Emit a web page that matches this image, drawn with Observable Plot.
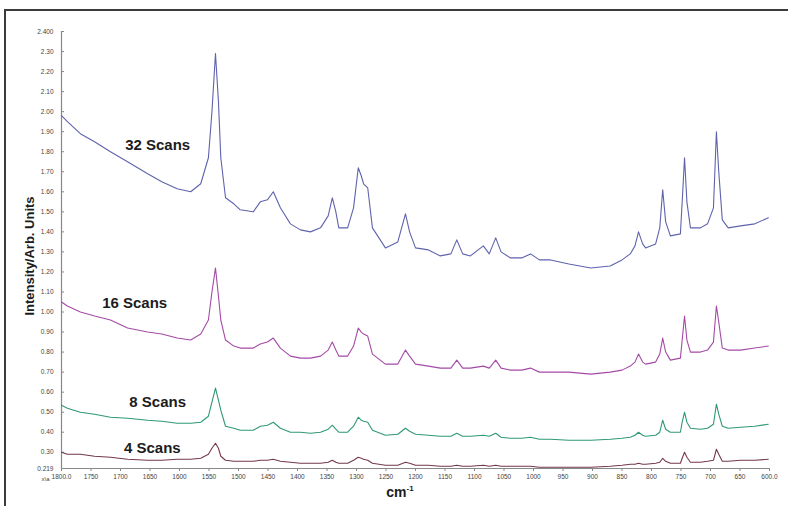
<!DOCTYPE html>
<html><head><meta charset="utf-8">
<script src="https://cdn.jsdelivr.net/npm/d3@7"></script>
<script src="https://cdn.jsdelivr.net/npm/@observablehq/plot@0.6"></script>
<style>
html,body{margin:0;padding:0;background:#fff;overflow:hidden;}
#chart{width:788px;height:506px;overflow:hidden;background:#fff;}
</style></head>
<body><div id="chart"></div>
<script>
const wavenumbers = [1800, 1790, 1768, 1744, 1717, 1688, 1654, 1630, 1604, 1581,
  1564, 1551, 1545, 1539, 1534, 1530, 1522, 1508, 1497, 1475,
  1463, 1451, 1441, 1429, 1412, 1395, 1378, 1361, 1348, 1341,
  1335, 1330, 1315, 1305, 1297, 1292, 1288, 1281, 1273, 1251,
  1230, 1217, 1210, 1200, 1178, 1158, 1140, 1130, 1120, 1107,
  1085, 1075, 1064, 1055, 1039, 1020, 1005, 990, 971, 940,
  903, 870, 850, 836, 828, 822, 815, 810, 793, 786,
  781, 776, 768, 751, 748, 744, 740, 734, 717, 705,
  695, 690, 686, 680, 670, 649, 625, 602];

const scans32 = [1.98, 1.95, 1.89, 1.85, 1.80, 1.75, 1.69, 1.65, 1.615, 1.60,
  1.64, 1.77, 2.00, 2.29, 2.05, 1.77, 1.57, 1.54, 1.51, 1.50,
  1.55, 1.56, 1.60, 1.52, 1.44, 1.41, 1.40, 1.42, 1.48, 1.57,
  1.50, 1.42, 1.42, 1.52, 1.72, 1.68, 1.64, 1.62, 1.42, 1.32,
  1.35, 1.49, 1.40, 1.32, 1.31, 1.28, 1.29, 1.36, 1.29, 1.28,
  1.33, 1.29, 1.37, 1.30, 1.27, 1.27, 1.29, 1.26, 1.26, 1.24,
  1.22, 1.23, 1.26, 1.29, 1.33, 1.40, 1.34, 1.32, 1.34, 1.42,
  1.61, 1.45, 1.38, 1.39, 1.55, 1.77, 1.55, 1.42, 1.42, 1.44,
  1.52, 1.90, 1.70, 1.46, 1.42, 1.43, 1.44, 1.47];

const scans16 = [1.05, 1.03, 1.00, 0.98, 0.96, 0.92, 0.90, 0.89, 0.87, 0.86,
  0.89, 0.96, 1.10, 1.22, 1.08, 0.96, 0.86, 0.83, 0.82, 0.82,
  0.84, 0.85, 0.87, 0.82, 0.78, 0.77, 0.77, 0.78, 0.81, 0.85,
  0.81, 0.78, 0.78, 0.83, 0.92, 0.90, 0.89, 0.88, 0.79, 0.74,
  0.74, 0.81, 0.78, 0.74, 0.73, 0.72, 0.72, 0.76, 0.72, 0.72,
  0.73, 0.72, 0.76, 0.72, 0.71, 0.71, 0.72, 0.70, 0.70, 0.70,
  0.69, 0.70, 0.71, 0.73, 0.75, 0.79, 0.75, 0.74, 0.75, 0.79,
  0.87, 0.80, 0.76, 0.77, 0.86, 0.98, 0.86, 0.80, 0.80, 0.81,
  0.85, 1.03, 0.95, 0.82, 0.81, 0.81, 0.82, 0.83];

const scans8 = [0.535, 0.52, 0.50, 0.49, 0.475, 0.47, 0.46, 0.455, 0.445, 0.445,
  0.45, 0.48, 0.55, 0.62, 0.56, 0.51, 0.43, 0.42, 0.41, 0.41,
  0.43, 0.435, 0.45, 0.42, 0.40, 0.40, 0.395, 0.40, 0.415, 0.435,
  0.415, 0.40, 0.40, 0.43, 0.475, 0.46, 0.455, 0.45, 0.41, 0.385,
  0.39, 0.42, 0.405, 0.39, 0.385, 0.38, 0.38, 0.395, 0.38, 0.38,
  0.385, 0.38, 0.395, 0.375, 0.37, 0.37, 0.375, 0.365, 0.365, 0.36,
  0.36, 0.365, 0.37, 0.375, 0.385, 0.40, 0.385, 0.38, 0.385, 0.40,
  0.46, 0.415, 0.40, 0.40, 0.45, 0.50, 0.45, 0.42, 0.415, 0.42,
  0.44, 0.54, 0.49, 0.43, 0.42, 0.425, 0.43, 0.44];

const scans4 = [0.30, 0.29, 0.29, 0.28, 0.275, 0.265, 0.26, 0.26, 0.265, 0.265,
  0.27, 0.29, 0.32, 0.345, 0.32, 0.28, 0.26, 0.255, 0.255, 0.255,
  0.26, 0.26, 0.265, 0.255, 0.25, 0.245, 0.245, 0.245, 0.25, 0.26,
  0.25, 0.245, 0.245, 0.26, 0.275, 0.27, 0.265, 0.26, 0.245, 0.235,
  0.235, 0.25, 0.245, 0.235, 0.235, 0.23, 0.23, 0.235, 0.23, 0.23,
  0.235, 0.23, 0.235, 0.23, 0.23, 0.23, 0.23, 0.225, 0.225, 0.225,
  0.225, 0.23, 0.235, 0.24, 0.24, 0.245, 0.24, 0.24, 0.245, 0.25,
  0.27, 0.255, 0.245, 0.245, 0.27, 0.30, 0.275, 0.25, 0.25, 0.255,
  0.26, 0.315, 0.29, 0.255, 0.255, 0.26, 0.26, 0.265];

const seriesNames = ["32 Scans", "16 Scans", "8 Scans", "4 Scans"];
const seriesColors = ["#5f63ad", "#a44aa6", "#2f9878", "#74394a"];
const labelWavenumber = [1637, 1676, 1637, 1646];
const labelIntensity = [1.831, 1.043, 0.549, 0.319];
const yTicks = [0.219, 0.3, 0.4, 0.5, 0.6, 0.7, 0.8, 0.9, 1.0, 1.1, 1.2, 1.3, 1.4, 1.5, 1.6, 1.7, 1.8, 1.9, 2.0, 2.1, 2.2, 2.3, 2.4];
const xTicks = [1800, 1750, 1700, 1650, 1600, 1550, 1500, 1450, 1400, 1350, 1300, 1250, 1200, 1150, 1100, 1050, 1000, 950, 900, 850, 800, 750, 700, 650, 600];
const yTitle = "Intensity/Arb. Units";

const allSeries = [scans32, scans16, scans8, scans4];
const rows = [];
allSeries.forEach((vals, i) => vals.forEach((v, j) => rows.push({series: seriesNames[i], w: wavenumbers[j], v})));
const labels = seriesNames.map((s, i) => ({s, w: labelWavenumber[i], v: labelIntensity[i]}));

const yFmt = d => d === 0.219 ? "0.219" : d === 2.4 ? "2.400" : d.toFixed(2);
const xFmt = d => (d === 1800 || d === 600) ? d.toFixed(1) : String(d);

const chart = Plot.plot({
  width: 788, height: 506,
  marginLeft: 61, marginRight: 19, marginTop: 31, marginBottom: 38,
  style: {fontFamily: "Liberation Sans, Arial, sans-serif", fontSize: "6px", background: "white", color: "#444"},
  x: {domain: [1800, 600], label: null},
  y: {domain: [0.219, 2.4], label: null},
  color: {domain: seriesNames, range: seriesColors},
  marks: [
    Plot.axisY(yTicks, {tickFormat: yFmt, tickSize: 0, tickPadding: 8, fontSize: 6.5, fill: "#444"}),
    Plot.axisY(yTicks, {tickSize: -3, text: null, stroke: "#888"}),
    Plot.axisX(xTicks, {tickFormat: xFmt, tickSize: 3, tickPadding: 3, fontSize: 6.5, fill: "#444", stroke: "#888"}),
    Plot.ruleX([1800], {stroke: "#888", strokeWidth: 1.2}),
    Plot.ruleY([0.219], {stroke: "#888", strokeWidth: 1.2}),
    Plot.line(rows, {x: "w", y: "v", z: "series", stroke: "series", strokeWidth: 1.1}),
    Plot.text(labels, {x: "w", y: "v", text: "s", fontSize: 15, fontWeight: "bold", fill: "#1c1c1c", textAnchor: "middle", lineAnchor: "middle"}),
    Plot.text([yTitle], {frameAnchor: "left", dx: -32, dy: 6, rotate: -90, fontSize: 13, fontWeight: "bold", fill: "#1c1c1c", textAnchor: "middle", lineAnchor: "middle"}),
    Plot.text(["x\\a"], {x: 1800, y: 0.219, dx: -16, dy: 11, fontSize: 6, fill: "#444", lineAnchor: "middle"})
  ]
});
document.getElementById("chart").appendChild(chart);

const svg = d3.select(chart);
// page frame (top and left edges of the scanned figure box)
svg.append("path")
  .attr("d", "M5,507 V10 H790")
  .attr("fill", "none").attr("stroke", "#3c3c3c").attr("stroke-width", 2);

const xt = svg.append("text")
  .attr("x", 400).attr("y", 497)
  .attr("text-anchor", "middle")
  .attr("font-family", "Liberation Sans, Arial, sans-serif")
  .attr("font-weight", "bold").attr("font-size", 14).attr("fill", "#1c1c1c");
xt.append("tspan").text("cm");
xt.append("tspan").attr("dy", -6).attr("font-size", 8).text("-1");
</script>
</body></html>
